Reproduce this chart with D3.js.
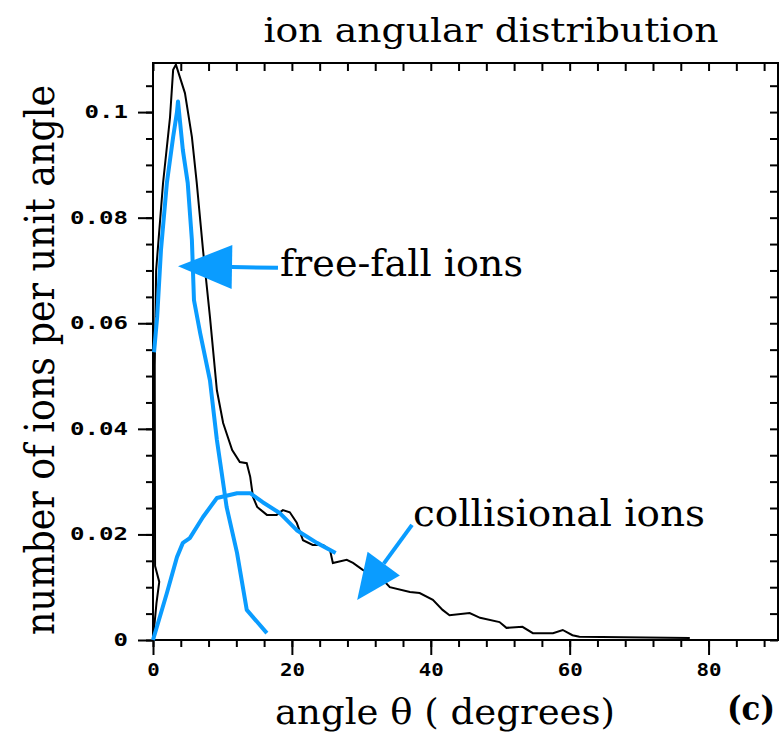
<!DOCTYPE html>
<html>
<head>
<meta charset="utf-8">
<script src="https://cdn.jsdelivr.net/npm/d3@7"></script>
<style>
  body { margin: 0; background: #fff; }
  text { fill: #000; }
</style>
</head>
<body>
<svg width="780" height="734"></svg>
<script>
// all ions (black histogram)
const totalAngle = [0, 0.5, 0.9, 0.3, 0.25, 0.45, 1.45, 2.45, 2.9, 3.3, 4.6, 5.6, 6.3, 7.2, 8.2, 9.2, 10.1, 11.4,
  12.5, 13.5, 14.0, 14.4, 15.0, 16.4, 17.8, 18.7, 19.7, 20.7, 21.6, 23.0, 24.5, 25.5, 25.9, 27.9, 28.8, 30.2,
  33.1, 34.1, 37.0, 38.4, 40.3, 41.7, 42.7, 45.6, 47.1, 49.9, 50.9, 53.2, 54.7, 57.6, 59.0, 60.4, 61.4, 77.3];
const totalCount = [0, 0.007, 0.011, 0.014, 0.052, 0.070, 0.0866, 0.099, 0.108, 0.109, 0.1036, 0.0953, 0.0866,
  0.0739, 0.0612, 0.0473, 0.0411, 0.036, 0.0337, 0.0335, 0.0309, 0.0271, 0.0252, 0.0237, 0.0237, 0.0246, 0.0242,
  0.0222, 0.0189, 0.018, 0.018, 0.017, 0.0146, 0.0152, 0.0146, 0.0133, 0.0114, 0.010, 0.0091, 0.0089, 0.0076,
  0.0057, 0.0047, 0.0051, 0.0042, 0.0034, 0.0023, 0.0025, 0.0013, 0.0013, 0.0019, 0.0009, 0.0006, 0.0004];

// free-fall ions (blue)
const freeAngle = [0.15, 0.6, 1.15, 2.0, 2.9, 3.45, 3.6, 4.3, 5.0, 5.6, 5.9, 6.8, 8.2, 9.2, 9.9, 10.6, 12.1, 13.5, 16.4];
const freeCount = [0.0545, 0.0612, 0.0739, 0.0866, 0.0953, 0.100, 0.102, 0.0928, 0.0866, 0.0758, 0.0644, 0.0581,
  0.0492, 0.0379, 0.0316, 0.0252, 0.0165, 0.0057, 0.0013];

// collisional ions (blue)
const collAngle = [0, 2.0, 3.45, 4.3, 5.3, 7.2, 9.2, 12.1, 14.0, 15.8, 18.3, 20.7, 23.6, 26.3];
const collCount = [0, 0.0089, 0.0157, 0.0184, 0.0193, 0.0233, 0.0269, 0.0278, 0.0278, 0.0261, 0.024, 0.0208,
  0.0184, 0.0165];

const xTicks = [0, 20, 40, 60, 80];
const xTickLabels = ["0", "20", "40", "60", "80"];
const yTicks = [0, 0.02, 0.04, 0.06, 0.08, 0.1];
const yTickLabels = ["0", "0.02", "0.04", "0.06", "0.08", "0.1"];

const svg = d3.select("svg");
const blue = "#0a9cff";
const serif = "'DejaVu Serif', serif";
const mono = "'DejaVu Sans Mono', monospace";

const x = d3.scaleLinear().domain([0, 90]).range([153, 778]);
const y = d3.scaleLinear().domain([0, 0.1093]).range([640, 63]);

const xMinor = d3.range(0, 91, 4);
const yMinor = d3.range(0, 0.1076, 0.005);

function styleTicks(g) {
  g.select(".domain").remove();
  g.selectAll("line").attr("stroke", "#000").attr("stroke-width", 2);
}

// bottom axis (outward ticks)
svg.append("g").attr("transform", `translate(0,${y(0)})`)
  .call(d3.axisBottom(x).tickValues(xMinor).tickSize(7).tickFormat(""))
  .call(styleTicks);
const gx = svg.append("g").attr("transform", `translate(0,${y(0)})`)
  .call(d3.axisBottom(x).tickValues(xTicks).tickSize(15).tickPadding(9)
    .tickFormat((d, i) => xTickLabels[i]))
  .call(styleTicks);
gx.selectAll("text")
  .attr("font-family", mono).attr("font-weight", "bold").attr("font-size", 17)
  .attr("textLength", d => 12.5 * xTickLabels[xTicks.indexOf(d)].length)
  .attr("lengthAdjust", "spacingAndGlyphs");

// left axis (outward ticks)
svg.append("g").attr("transform", `translate(${x(0)},0)`)
  .call(d3.axisLeft(y).tickValues(yMinor).tickSize(7).tickFormat(""))
  .call(styleTicks);
const gy = svg.append("g").attr("transform", `translate(${x(0)},0)`)
  .call(d3.axisLeft(y).tickValues(yTicks).tickSize(15).tickPadding(10)
    .tickFormat((d, i) => yTickLabels[i]))
  .call(styleTicks);
gy.selectAll("text")
  .attr("font-family", mono).attr("font-weight", "bold").attr("font-size", 17)
  .attr("textLength", d => 14.5 * yTickLabels[yTicks.indexOf(d)].length)
  .attr("lengthAdjust", "spacingAndGlyphs");

// top and right axes (inward ticks)
svg.append("g").attr("transform", `translate(0,${y.range()[1]})`)
  .call(d3.axisTop(x).tickValues(xMinor).tickSize(-8).tickFormat(""))
  .call(styleTicks);
svg.append("g").attr("transform", `translate(${x.range()[1]},0)`)
  .call(d3.axisRight(y).tickValues(yMinor).tickSize(-8).tickFormat(""))
  .call(styleTicks);

// frame
svg.append("rect")
  .attr("x", x(0)).attr("y", y.range()[1])
  .attr("width", x.range()[1] - x(0)).attr("height", y(0) - y.range()[1])
  .attr("fill", "none").attr("stroke", "#000").attr("stroke-width", 2);

const line = d3.line().x(d => x(d[0])).y(d => y(d[1]));

svg.append("path")
  .datum(d3.zip(totalAngle, totalCount))
  .attr("d", line).attr("fill", "none").attr("stroke", "#000").attr("stroke-width", 2);
svg.append("path")
  .datum(d3.zip(freeAngle, freeCount))
  .attr("d", line).attr("fill", "none").attr("stroke", blue).attr("stroke-width", 4)
  .attr("stroke-linejoin", "round");
svg.append("path")
  .datum(d3.zip(collAngle, collCount))
  .attr("d", line).attr("fill", "none").attr("stroke", blue).attr("stroke-width", 4)
  .attr("stroke-linejoin", "round");

// annotation arrows, tail -> tip in data units
function arrow(a0, v0, a1, v1, headLen, headHalf) {
  const x0 = x(a0), y0 = y(v0), x1 = x(a1), y1 = y(v1);
  const len = Math.hypot(x1 - x0, y1 - y0);
  const ux = (x1 - x0) / len, uy = (y1 - y0) / len;
  const bx = x1 - ux * headLen, by = y1 - uy * headLen;
  svg.append("line")
    .attr("x1", x0).attr("y1", y0).attr("x2", bx).attr("y2", by)
    .attr("stroke", blue).attr("stroke-width", 4);
  svg.append("polygon")
    .attr("points", [[x1, y1], [bx - uy * headHalf, by + ux * headHalf], [bx + uy * headHalf, by - ux * headHalf]]
      .map(p => p.join(",")).join(" "))
    .attr("fill", blue);
}
arrow(18.0, 0.0705, 3.6, 0.0708, 54, 22);
arrow(37.3, 0.0218, 29.4, 0.0076, 45, 20);

// labels
svg.append("text")
  .attr("x", 491).attr("y", 42).attr("text-anchor", "middle")
  .attr("font-family", serif).attr("font-size", 33)
  .attr("textLength", 455).attr("lengthAdjust", "spacingAndGlyphs")
  .text("ion angular distribution");

svg.append("text")
  .attr("x", 280).attr("y", 276)
  .attr("font-family", serif).attr("font-size", 37)
  .attr("textLength", 243).attr("lengthAdjust", "spacingAndGlyphs")
  .text("free-fall ions");

svg.append("text")
  .attr("x", 413).attr("y", 526)
  .attr("font-family", serif).attr("font-size", 37)
  .attr("textLength", 292).attr("lengthAdjust", "spacingAndGlyphs")
  .text("collisional ions");

svg.append("text")
  .attr("x", 275).attr("y", 724)
  .attr("font-family", serif).attr("font-size", 36)
  .attr("textLength", 340).attr("lengthAdjust", "spacingAndGlyphs")
  .text("angle θ ( degrees)");

svg.append("text")
  .attr("x", 727).attr("y", 720)
  .attr("font-family", serif).attr("font-size", 33).attr("font-weight", "bold")
  .attr("textLength", 48).attr("lengthAdjust", "spacingAndGlyphs")
  .text("(c)");

svg.append("text")
  .attr("transform", "translate(54,360) rotate(-90)")
  .attr("text-anchor", "middle")
  .attr("font-family", serif).attr("font-size", 41)
  .attr("textLength", 550).attr("lengthAdjust", "spacingAndGlyphs")
  .text("number of ions per unit angle");
</script>
</body>
</html>
